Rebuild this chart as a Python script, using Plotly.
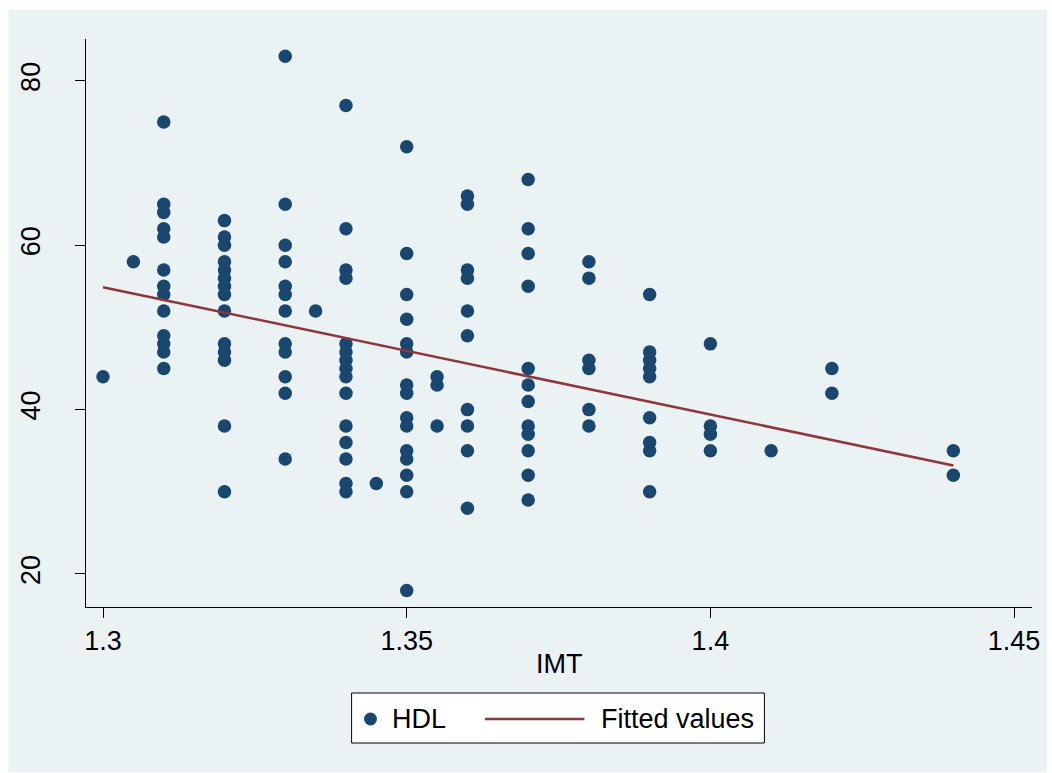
import plotly.graph_objects as go

# ---- data ----
imt = (
    [1.30]
    + [1.305]
    + [1.31] * 13
    + [1.32] * 14
    + [1.33] * 12
    + [1.335]
    + [1.34] * 15
    + [1.345]
    + [1.35] * 15
    + [1.355] * 3
    + [1.36] * 10
    + [1.37] * 12
    + [1.38] * 6
    + [1.39] * 9
    + [1.40] * 4
    + [1.41]
    + [1.42] * 2
    + [1.44] * 2
)
hdl = (
    [44]
    + [58]
    + [75, 65, 64, 62, 61, 57, 55, 54, 52, 49, 48, 47, 45]
    + [63, 61, 60, 58, 57, 56, 55, 54, 52, 48, 47, 46, 38, 30]
    + [83, 65, 60, 58, 55, 54, 52, 48, 47, 44, 42, 34]
    + [52]
    + [77, 62, 57, 56, 48, 47, 46, 45, 44, 42, 38, 36, 34, 31, 30]
    + [31]
    + [72, 59, 54, 51, 48, 47, 43, 42, 39, 38, 35, 34, 32, 30, 18]
    + [44, 43, 38]
    + [66, 65, 57, 56, 52, 49, 40, 38, 35, 28]
    + [68, 62, 59, 55, 45, 43, 41, 38, 37, 35, 32, 29]
    + [58, 56, 46, 45, 40, 38]
    + [54, 47, 46, 45, 44, 39, 36, 35, 30]
    + [48, 38, 37, 35]
    + [35]
    + [45, 42]
    + [35, 32]
)
fit_x = [1.30, 1.44]
fit_y = [54.9, 33.2]

x_tickvals = [1.30, 1.35, 1.40, 1.45]
x_ticktext = ["1.3", "1.35", "1.4", "1.45"]
y_tickvals = [20, 40, 60, 80]
y_ticktext = ["20", "40", "60", "80"]

series_names = ["HDL", "Fitted values"]
x_title = "IMT"

# ---- styling ----
W, H = 1052, 773
ML, MR, MT, MB = 86, 15, 39, 166
PW, PH = W - ML - MR, H - MT - MB
NAVY = "#1A476F"
MAROON = "#90353B"
BG = "#EAF2F3"
FONT = "Liberation Sans, Arial, Helvetica, sans-serif"
FS = 27


def px_x(p):
    return (p - ML) / PW


def px_y(p):
    return (H - MB - p) / PH


fig = go.Figure()
fig.add_trace(go.Scatter(
    x=imt, y=hdl, mode="markers", name=series_names[0],
    marker=dict(color=NAVY, size=13.5, line=dict(width=0)),
    showlegend=False,
))
fig.add_trace(go.Scatter(
    x=fit_x, y=fit_y, mode="lines", name=series_names[1],
    line=dict(color=MAROON, width=2.5),
    showlegend=False,
))

shapes = [
    # graph region background
    dict(type="rect", xref="paper", yref="paper", layer="below",
         x0=px_x(8), x1=px_x(W), y0=px_y(772), y1=px_y(10),
         fillcolor=BG, line=dict(width=0)),
    # legend box
    dict(type="rect", xref="paper", yref="paper",
         x0=px_x(353), x1=px_x(768), y0=px_y(743), y1=px_y(693),
         fillcolor="white", line=dict(color="black", width=1)),
    # legend marker
    dict(type="circle", xref="paper", yref="paper",
         x0=px_x(372 - 6.5), x1=px_x(372 + 6.5),
         y0=px_y(719 + 6.5), y1=px_y(719 - 6.5),
         fillcolor=NAVY, line=dict(width=0)),
    # legend line
    dict(type="line", xref="paper", yref="paper",
         x0=px_x(487), x1=px_x(587), y0=px_y(719), y1=px_y(719),
         line=dict(color=MAROON, width=2.5)),
]

annotations = [
    dict(text=series_names[0], xref="paper", yref="paper",
         x=px_x(392), y=px_y(719), xanchor="left", yanchor="middle",
         showarrow=False, font=dict(family=FONT, size=FS, color="black")),
    dict(text=series_names[1], xref="paper", yref="paper",
         x=px_x(602), y=px_y(719), xanchor="left", yanchor="middle",
         showarrow=False, font=dict(family=FONT, size=FS, color="black")),
    # x-axis title
    dict(text=x_title, xref="paper", yref="paper",
         x=0.5, y=px_y(664), xanchor="center", yanchor="middle",
         showarrow=False, font=dict(family=FONT, size=FS, color="black")),
]

fig.update_layout(
    width=W, height=H,
    margin=dict(l=ML, r=MR, t=MT, b=MB, pad=0),
    paper_bgcolor="white",
    plot_bgcolor="white",
    font=dict(family=FONT, size=FS, color="black"),
    shapes=shapes,
    annotations=annotations,
    showlegend=False,
    xaxis=dict(
        range=[1.2972, 1.45295],
        tickvals=x_tickvals, ticktext=x_ticktext,
        ticks="outside", ticklen=10, tickwidth=1, tickcolor="black",
        showline=True, linecolor="black", linewidth=1,
        showgrid=False, zeroline=False,
        tickfont=dict(family=FONT, size=FS, color="black"),
    ),
    yaxis=dict(
        range=[15.98, 85.1],
        tickvals=y_tickvals, ticktext=y_ticktext,
        tickangle=-90,
        ticks="outside", ticklen=10, tickwidth=1, tickcolor="black",
        showline=True, linecolor="black", linewidth=1,
        showgrid=True, gridcolor=BG, gridwidth=1.5,
        zeroline=False,
        tickfont=dict(family=FONT, size=FS, color="black"),
        ticklabelstandoff=24,
    ),
)

fig.write_html("out.html")
